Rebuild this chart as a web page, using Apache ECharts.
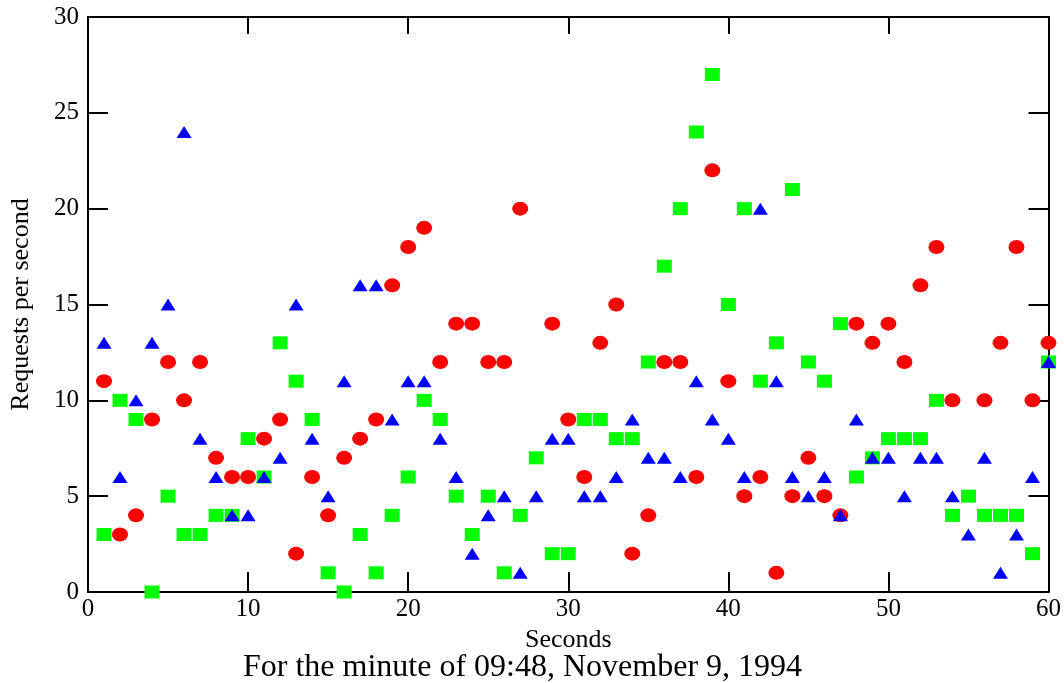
<!DOCTYPE html>
<html>
<head>
<meta charset="utf-8">
<script src="https://cdn.jsdelivr.net/npm/echarts@6/dist/echarts.min.js"></script>
<style>
  html, body { margin: 0; padding: 0; background: #fff; }
  #chart { width: 1064px; height: 683px; }
</style>
</head>
<body>
<div id="chart"></div>
<script>
// seconds 1..60 of the minute
var seconds = [];
for (var i = 1; i <= 60; i++) seconds.push(i);

// null = no point drawn for that second
var redValues = [11, 3, 4, 9, 12, 10, 12, 7, 6, 6, 8, 9, 2, 6, 4, 7, 8, 9, 16, 18,
                 19, 12, 14, 14, 12, 12, 20, null, 14, 9, 6, 13, 15, 2, 4, 12, 12, 6, 22, 11,
                 5, 6, 1, 5, 7, 5, 4, 14, 13, 14, 12, 16, 18, 10, null, 10, 13, 18, 10, 13];
var greenValues = [3, 10, 9, 0, 5, 3, 3, 4, 4, 8, 6, 13, 11, 9, 1, 0, 3, 1, 4, 6,
                   10, 9, 5, 3, 5, 1, 4, 7, 2, 2, 9, 9, 8, 8, 12, 17, 20, 24, 27, 15,
                   20, 11, 13, 21, 12, 11, 14, 6, 7, 8, 8, 8, 10, 4, 5, 4, 4, 4, 2, 12];
var blueValues = [13, 6, 10, 13, 15, 24, 8, 6, 4, 4, 6, 7, 15, 8, 5, 11, 16, 16, 9, 11,
                  11, 8, 6, 2, 4, 5, 1, 5, 8, 8, 5, 5, 6, 9, 7, 7, 6, 11, 9, 8,
                  6, 20, 11, 6, 5, 6, 4, 9, 7, 7, 5, 7, 7, 5, 3, 7, 1, 3, 6, 12];

var xTicks = [0, 10, 20, 30, 40, 50, 60];
var yTicks = [0, 5, 10, 15, 20, 25, 30];

function pairs(values) {
    var out = [];
    values.forEach(function (v, i) {
        if (v !== null) out.push([seconds[i], v]);
    });
    return out;
}

var font = '"Liberation Serif", "DejaVu Serif", serif';
var axisLine = { show: true, onZero: false, lineStyle: { color: '#000', width: 2 } };

var chart = echarts.init(document.getElementById('chart'));

chart.setOption({
    backgroundColor: '#fff',
    animation: false,
    grid: { left: 88, right: 14, top: 17, bottom: 91 },
    xAxis: [{
        type: 'value',
        min: xTicks[0],
        max: xTicks[xTicks.length - 1],
        interval: 10,
        position: 'bottom',
        name: 'Seconds',
        nameLocation: 'middle',
        nameGap: 33,
        nameTextStyle: { fontFamily: font, fontSize: 26, color: '#000' },
        axisLine: axisLine,
        axisTick: { inside: true, length: 20, lineStyle: { color: '#000', width: 2 } },
        axisLabel: { fontFamily: font, fontSize: 25, color: '#000', margin: 5 },
        splitLine: { show: false }
    }, {
        type: 'value',
        min: xTicks[0],
        max: xTicks[xTicks.length - 1],
        interval: 10,
        position: 'top',
        axisLine: axisLine,
        axisTick: { inside: true, length: 17, lineStyle: { color: '#000', width: 2 } },
        axisLabel: { show: false },
        splitLine: { show: false }
    }],
    yAxis: [{
        type: 'value',
        min: yTicks[0],
        max: yTicks[yTicks.length - 1],
        interval: 5,
        position: 'left',
        name: 'Requests per second',
        nameLocation: 'middle',
        nameGap: 54,
        nameTextStyle: { fontFamily: font, fontSize: 26, color: '#000' },
        axisLine: axisLine,
        axisTick: { inside: true, length: 20, lineStyle: { color: '#000', width: 2 } },
        axisLabel: { fontFamily: font, fontSize: 25, color: '#000', margin: 9 },
        splitLine: { show: false }
    }, {
        type: 'value',
        min: yTicks[0],
        max: yTicks[yTicks.length - 1],
        interval: 5,
        position: 'right',
        axisLine: axisLine,
        axisTick: { inside: true, length: 20, lineStyle: { color: '#000', width: 2 } },
        axisLabel: { show: false },
        splitLine: { show: false }
    }],
    graphic: [{
        type: 'text',
        left: 243,
        top: 652,
        style: {
            text: 'For the minute of 09:48, November 9, 1994',
            font: '32px ' + font,
            fill: '#000'
        }
    }],
    series: [{
        type: 'scatter',
        name: 'red',
        data: pairs(redValues),
        symbol: 'path://M0 1A1 1 0 1 0 2 1A1 1 0 1 0 0 1Z',
        symbolSize: [16, 14],
        itemStyle: { color: '#ff0000', opacity: 1 }
    }, {
        type: 'scatter',
        name: 'green',
        data: pairs(greenValues),
        symbol: 'rect',
        symbolSize: [15, 13],
        itemStyle: { color: '#00ff00', opacity: 1 }
    }, {
        type: 'scatter',
        name: 'blue',
        data: pairs(blueValues),
        symbol: 'triangle',
        symbolSize: [15, 12],
        itemStyle: { color: '#0000ff', opacity: 1 }
    }]
});
</script>
</body>
</html>
